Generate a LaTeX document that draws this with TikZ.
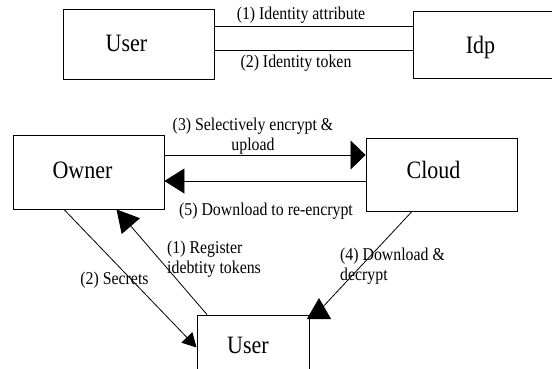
\documentclass[tikz,border=0pt]{standalone}
\usepackage{fontspec}
\setmainfont{Liberation Serif}
\newfontfamily\narrowserif[FakeStretch=0.88]{Liberation Serif}
\usetikzlibrary{arrows.meta,shapes.geometric}
\tikzset{
  box/.style={draw, line width=0.9pt, inner sep=0pt},
  boxtext/.style={font=\narrowserif\fontsize{25}{27}\selectfont},
  lbl/.style={font=\narrowserif\fontsize{18}{20}\selectfont, inner sep=0pt},
  conn/.style={line width=0.8pt},
  bigtip/.style={-{Triangle[length=15pt,width=29pt]}},
}
\begin{document}
\begin{tikzpicture}[x=1pt,y=-1pt]
\useasboundingbox (0,0) rectangle (552,369);
\fill[white] (0,0) rectangle (552,369);
% boxes
\node[box, minimum width=151pt, minimum height=70pt,
      label={[boxtext, xshift=-12pt, yshift=1pt]center:User}] (u1) at (138.5,44) {};
\node[box, minimum width=147pt, minimum height=67pt,
      label={[boxtext, xshift=-6pt, yshift=-3pt]center:Idp}] (idp) at (486.5,44.5) {};
\node[box, minimum width=151pt, minimum height=74pt,
      label={[boxtext, xshift=-6pt, yshift=2pt]center:Owner}] (own) at (88.5,172) {};
\node[box, minimum width=151pt, minimum height=73pt,
      label={[boxtext, xshift=-8pt, yshift=5pt]center:Cloud}] (cld) at (441.5,174.5) {};
\node[box, minimum width=112pt, minimum height=65pt,
      label={[boxtext, xshift=-5pt, yshift=2pt]center:User}] (u2) at (253,347.5) {};
% top connectors
\draw[conn] ([yshift=18pt]u1.east) -- ([yshift=18.5pt]idp.west);
\draw[conn] ([yshift=-6pt]u1.east) -- ([yshift=-5.5pt]idp.west);
% owner <-> cloud
\draw[conn, bigtip] ([yshift=17pt]own.east) -- ([yshift=19.5pt]cld.west);
\draw[conn, -{Triangle[length=20pt,width=25pt]}] ([yshift=-6.5pt]cld.west) -- ([yshift=-9pt]own.east);
% diagonals
\draw[conn, -{Triangle[length=14pt,width=15pt]}] ([xshift=-24.5pt]own.south) -- (u2.west);
\draw[conn, -{Triangle[length=22pt,width=24pt]}] ([xshift=-46pt]u2.north) -- ([xshift=28pt]own.south);
\draw[conn] ([xshift=-29.5pt]cld.south) -- ([xshift=10pt,yshift=4pt]u2.north east);
\node[regular polygon, regular polygon sides=3, fill=black, inner sep=0pt,
      minimum size=28pt] (tri) at (319,312) {};
% labels
\node[lbl] (l1) at (301,15) {(1) Identity attribute};
\node[lbl] (l2) at (296,63) {(2) Identity token};
\node[lbl, align=center] (l3) at (253,136) {(3) Selectively encrypt \&\\upload};
\node[lbl] (l5) at (266,211) {(5) Download to re-encrypt};
\node[lbl, align=left, anchor=west] (lr) at (167,259.5) {(1) Register\\idebtity tokens};
\node[lbl] (ls) at (114.5,280) {(2) Secrets};
\node[lbl, align=left, anchor=west] (l4) at (340,266) {(4) Download \&\\decrypt};
\end{tikzpicture}
\end{document}
